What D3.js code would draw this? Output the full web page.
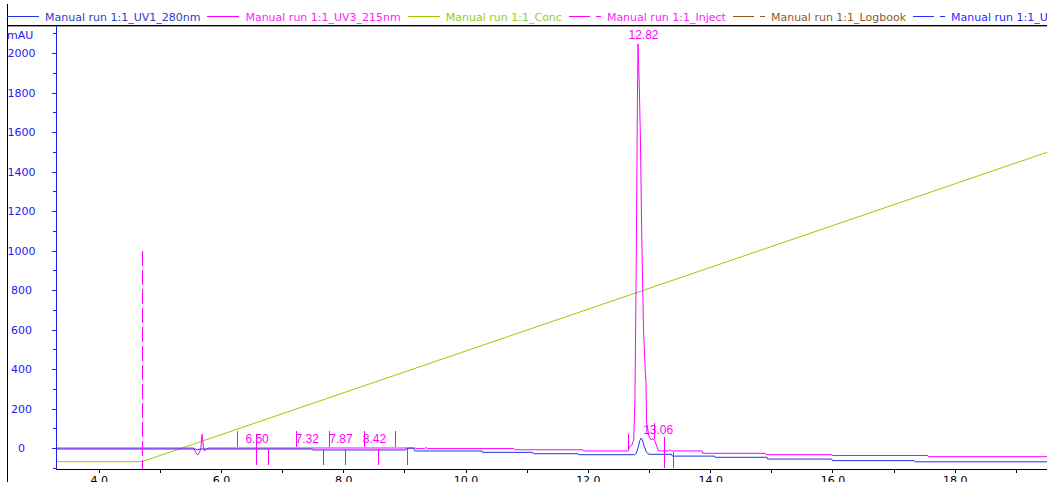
<!DOCTYPE html>
<html><head><meta charset="utf-8">
<script src="https://cdn.jsdelivr.net/npm/d3@7/dist/d3.min.js"></script>
<style>
html,body{margin:0;padding:0;background:#fff;}
svg{display:block;}
text{font-family:"DejaVu Sans",sans-serif;font-size:11px;}
</style></head><body>
<svg id="chart" width="1047" height="482"></svg>
<script>
// ---- data -------------------------------------------------------------
// Axis ranges (min, mAU)
const timeDomain = [3.30, 19.51];
const absRef = [0, 2000];
const yMajorTicks = [0, 200, 400, 600, 800, 1000, 1200, 1400, 1600, 1800, 2000];
const yMinorTicks = d3.range(-100, 2101, 100);
const xTickValues = d3.range(4, 20, 1);
const xTickLabels = ["4.0", "6.0", "8.0", "10.0", "12.0", "14.0", "16.0", "18.0"];

// UV1 280 nm trace
const uv1Time  = [3.30, 5.58, 5.60, 5.62, 5.64, 5.66, 7.49, 7.50, 9.02, 9.04, 9.15, 9.17, 10.27, 10.28, 11.10, 11.11, 11.84, 11.85,
                  12.76, 12.79, 12.82, 12.85, 12.87, 12.89, 12.92, 12.96, 13.00, 13.37, 13.38, 14.07, 14.08, 14.93, 14.94, 15.99, 16.00, 17.34, 17.35, 19.51];
const uv1Value = [-5, -5, -7, -10, -6, -5, -5, -10, -10, -1, -1, -15, -15, -22, -22, -29, -29, -34,
                  -34, -28, 0, 38, 50, 42, 10, -22, -32, -32, -41, -41, -47, -47, -56, -56, -64, -64, -70, -70];

// UV3 215 nm trace
const uv3Time  = [3.30, 5.55, 5.59, 5.62, 5.65, 5.67, 5.69, 5.71, 5.73, 5.76, 5.79, 9.17, 9.20, 9.33, 9.35, 9.38, 10.79, 10.80, 11.92, 11.93,
                  12.66, 12.68, 12.72, 12.75, 12.77, 12.79, 12.81, 12.82, 12.84, 12.86, 12.88, 12.91, 12.94, 12.95, 12.96, 13.00,
                  13.03, 13.06, 13.09, 13.12, 13.15, 13.20, 13.31, 13.34, 13.37, 13.87, 13.88, 14.90, 14.91, 15.99, 16.00, 17.56, 17.57, 19.51];
const uv3Value = [0, 0, -25, -35, -20, 0, 70, 10, -15, -5, 0, 0, -3, -3, 3, -3, -3, -9, -9, -15,
                  -15, 5, 15, 40, 250, 900, 1750, 2045, 1850, 1560, 1100, 600, 380, 340, 130, 60,
                  42, 46, 40, 15, -12, -15, -15, -8, -15, -15, -27, -27, -34, -34, -38, -38, -44, -44];

// Concentration (%B) trace
const concTime  = [3.30, 4.71, 19.51];
const concValue = [0, 0, 71];

// Injection mark
const injectTime = 4.71;
const injectHeight = 1000;

// Integrated peaks (retention time labels)
const peakTimes = [6.50, 7.32, 7.87, 8.42, 12.82, 13.06];

// Peak boundary marks
const markUp      = [6.26, 7.22, 7.76, 8.34, 8.84, 12.65, 13.08];
const markDown    = [6.77, 7.67, 8.03, 8.57, 9.04, 13.39];
const markThrough = [6.57, 13.24];

// Curve legend
const legendNames  = ["Manual run 1:1_UV1_280nm", "Manual run 1:1_UV3_215nm", "Manual run 1:1_Conc",
                      "- Manual run 1:1_Inject", "- Manual run 1:1_Logbook", "- Manual run 1:1_UV1_280nm@01,BASEM"];
const legendColors = ["#1f33e0", "#ff00ff", "#99cc00", "#ff00ff", "#8c5a1e", "#2a2aff"];
const legendTextColors = ["#2a3cc4", "#ff22ff", "#99cc22", "#ff22ff", "#8c5a2a", "#2a2aff"];
const legendDashed = [false, false, false, true, true, true];

// ---- drawing ----------------------------------------------------------
const W = 1047, H = 482;
const plotLeft = 56, plotRight = 1047, plotTop = 26, plotBottom = 469;
const MAGENTA = "#ff00ff";
const svg = d3.select("#chart");

const x = d3.scaleLinear().domain(timeDomain).range([plotLeft, plotRight]);
const y = d3.scaleLinear().domain(absRef).range([448, 53]);
const yConc = d3.scaleLinear().domain([0, 100]).range([y(-69), plotTop]);

// frame
svg.append("line").attr("x1", 7.5).attr("x2", 7.5).attr("y1", 4).attr("y2", H)
  .attr("stroke", "#000").attr("shape-rendering", "crispEdges");
svg.append("line").attr("x1", 7).attr("x2", W).attr("y1", 25.5).attr("y2", 25.5)
  .attr("stroke", "#000").attr("shape-rendering", "crispEdges");
svg.append("line").attr("x1", 8).attr("x2", W).attr("y1", 26.5).attr("y2", 26.5)
  .attr("stroke", "#a0a0a0").attr("shape-rendering", "crispEdges");

// legend
const leg = svg.append("g").attr("class", "legend");
let lx = 7;
legendNames.forEach((name, i) => {
  const g = leg.append("g");
  const line = g.append("line").attr("x1", lx).attr("x2", lx + 32).attr("y1", 16.5).attr("y2", 16.5)
    .attr("stroke", legendColors[i]).attr("shape-rendering", "crispEdges");
  if (legendDashed[i]) line.attr("stroke-dasharray", "21,6,5,100");
  const t = g.append("text").attr("x", lx + 38).attr("y", 20.5)
    .attr("fill", legendTextColors[i]).text(legendDashed[i] ? name.slice(2) : name);
  lx += 38 + t.node().getComputedTextLength() + 7;
});

// clip for traces
svg.append("clipPath").attr("id", "plotclip").append("rect")
  .attr("x", plotLeft + 1).attr("y", plotTop + 1).attr("width", plotRight - plotLeft).attr("height", plotBottom - plotTop - 1);

const plot = svg.append("g").attr("clip-path", "url(#plotclip)");

// concentration
const concLine = d3.line().x(d => x(d[0])).y(d => yConc(d[1]));
plot.append("path").datum(d3.zip(concTime, concValue)).attr("d", concLine)
  .attr("fill", "none").attr("stroke", "#99cc00").attr("stroke-width", 1);

// UV traces
const uvLine = d3.line().x(d => x(d[0])).y(d => y(d[1]));
const uv3 = d3.zip(uv3Time, uv3Value);
plot.append("path").datum(uv3).attr("d", uvLine)
  .attr("fill", "none").attr("stroke", MAGENTA).attr("stroke-width", 1);
plot.append("path").datum(d3.zip(uv1Time, uv1Value)).attr("d", uvLine)
  .attr("fill", "none").attr("stroke", "#1f33e0").attr("stroke-width", 1);

// UV3 value at a given time (linear)
function uv3At(t) {
  const i = d3.bisector(d => d[0]).left(uv3, t);
  if (i <= 0) return uv3[0][1];
  if (i >= uv3.length) return uv3[uv3.length - 1][1];
  const a = uv3[i - 1], b = uv3[i];
  return a[1] + (b[1] - a[1]) * (t - a[0]) / (b[0] - a[0]);
}

// boundary marks
const px = t => Math.round(x(t)) + 0.5;
const marks = plot.append("g").attr("class", "marks")
  .style("stroke", MAGENTA).style("stroke-width", 1).attr("shape-rendering", "crispEdges");
marks.selectAll("line.up").data(markUp).join("line").attr("class", "up")
  .attr("x1", px).attr("x2", px)
  .attr("y1", d => y(uv3At(d)) - 17).attr("y2", d => y(uv3At(d)) - 1);
marks.selectAll("line.down").data(markDown).join("line").attr("class", "down")
  .attr("x1", px).attr("x2", px)
  .attr("y1", d => y(uv3At(d)) + 1).attr("y2", d => y(uv3At(d)) + 17);
marks.selectAll("line.thr").data(markThrough).join("line").attr("class", "thr")
  .attr("x1", px).attr("x2", px)
  .attr("y1", d => y(uv3At(d)) - 14).attr("y2", d => y(uv3At(d)) + 17);

// injection mark
plot.append("line").attr("x1", px(injectTime)).attr("x2", px(injectTime))
  .attr("y1", y(injectHeight)).attr("y2", plotBottom)
  .attr("stroke", MAGENTA).attr("stroke-dasharray", "15,4").attr("shape-rendering", "crispEdges");

// retention time labels
svg.selectAll("text.peak").data(peakTimes).join("text").attr("class", "peak")
  .attr("x", d => x(d) + 5.5)
  .attr("y", d => y(uv3At(d)) - 5)
  .attr("text-anchor", "middle")
  .attr("fill", MAGENTA)
  .style("font-family", "'Liberation Sans', Arial, sans-serif")
  .style("font-size", "12px")
  .text(d => d.toFixed(2));

// y axis
const yAxisG = svg.append("g").attr("transform", `translate(${plotLeft},0)`);
yAxisG.call(d3.axisLeft(y).tickValues(yMinorTicks).tickSize(3).tickFormat(""));
yAxisG.call(g => g.select(".domain").remove());
const yMaj = svg.append("g").attr("transform", `translate(${plotLeft},0)`);
yMaj.call(d3.axisLeft(y).tickValues(yMajorTicks).tickSize(4).tickFormat(d3.format("d")));
yMaj.call(g => g.select(".domain").remove());
yMaj.selectAll("text").attr("x", -34.5).attr("text-anchor", "middle")
  .attr("fill", "#2020f0").style("font-size", "11px").style("font-family", "'DejaVu Sans', sans-serif");
yAxisG.selectAll(".tick line").attr("stroke", "#2020f0").attr("shape-rendering", "crispEdges");
yMaj.selectAll(".tick line").attr("stroke", "#2020f0").attr("shape-rendering", "crispEdges");
svg.append("line").attr("x1", plotLeft + 0.5).attr("x2", plotLeft + 0.5).attr("y1", plotTop).attr("y2", plotBottom)
  .attr("stroke", "#1f1ff0").attr("shape-rendering", "crispEdges");
svg.append("text").attr("x", 7).attr("y", 39).attr("fill", "#2020f0").text("mAU");

// x axis
const xAxisG = svg.append("g").attr("transform", `translate(0,${plotBottom})`);
xAxisG.call(d3.axisBottom(x).tickValues(xTickValues).tickSize(4)
  .tickFormat(d => (d % 2 === 0 ? xTickLabels[(d - 4) / 2] : "")));
xAxisG.select(".domain").remove();
xAxisG.selectAll("line").attr("stroke", "#000").attr("shape-rendering", "crispEdges");
xAxisG.selectAll("text").attr("fill", "#000").style("font-size", "11px")
  .style("font-family", "'DejaVu Sans', sans-serif");
svg.append("line").attr("x1", plotLeft).attr("x2", plotRight).attr("y1", plotBottom + 0.5).attr("y2", plotBottom + 0.5)
  .attr("stroke", "#000").attr("shape-rendering", "crispEdges");
</script>
</body></html>
